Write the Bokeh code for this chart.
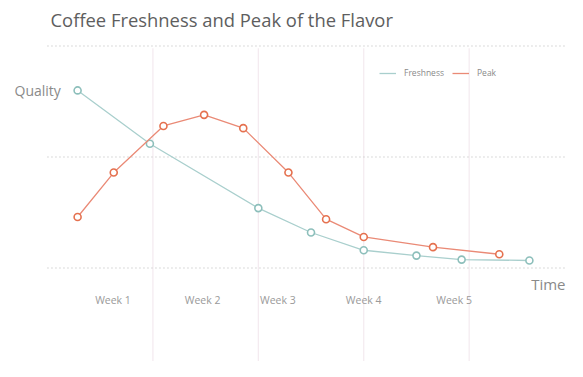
from bokeh.plotting import figure
from bokeh.models import Range1d, Label, Legend, LegendItem, ColumnDataSource
from bokeh.core.properties import value
from bokeh.embed import file_html
from bokeh.resources import INLINE

# ---- data (x in days, y in quality units) ----
fresh_x = [2, 6.8, 14, 17.5, 21, 24.5, 27.5, 32]
fresh_y = [80, 56, 27, 16, 8, 5.6, 3.8, 3.4]
peak_x = [2, 4.4, 7.7, 10.4, 13, 16, 18.5, 21, 25.6, 30]
peak_y = [23, 43, 64, 69, 63, 43, 22, 14, 9.4, 6.2]
week_labels = ["Week 1", "Week 2", "Week 3", "Week 4", "Week 5"]
week_label_x = [4.35, 10.3, 15.3, 21.0, 27.0]
week_bounds = [7, 14, 21, 28]
grid_levels = [0, 50, 100]

FONT = "Open Sans"
TEAL = "#8dbfbb"
TEAL_LINE = "#a9cfcd"
RED = "#e5714f"
RED_LINE = "#ea8a76"

p = figure(width=567, height=361, output_backend="svg", toolbar_location=None,
           x_range=Range1d(-3.12, 34.53), y_range=Range1d(-42.1, 120.5),
           min_border=0, min_border_left=0, min_border_right=0,
           min_border_top=0, min_border_bottom=0)
p.axis.visible = False
p.grid.visible = False
p.outline_line_color = None
p.background_fill_color = "white"
p.border_fill_color = "white"

# vertical week separators
p.segment(x0=week_bounds, x1=week_bounds, y0=[99] * 4, y1=[-60] * 4,
          line_color="#f4eaef", line_width=1.2)

# dotted horizontal levels
p.segment(x0=[0] * 3, x1=[40] * 3, y0=grid_levels, y1=grid_levels,
          line_color="#cfcfcf", line_width=1.6, line_dash="1 3")

# series
r_f = p.line(fresh_x, fresh_y, line_color=TEAL_LINE, line_width=1.3)
p.scatter(fresh_x, fresh_y, size=7, marker="circle", fill_color="white",
          line_color=TEAL, line_width=1.6)
r_p = p.line(peak_x, peak_y, line_color=RED_LINE, line_width=1.3)
p.scatter(peak_x, peak_y, size=7, marker="circle", fill_color="white",
          line_color=RED, line_width=1.6)

# week labels
src = ColumnDataSource(dict(x=week_label_x, y=[-14.6] * 5, t=week_labels))
p.text(x="x", y="y", text="t", source=src, text_font=value(FONT),
       text_font_size="10.5px", text_color="#9a9a9a", text_align="center",
       text_baseline="middle")

# axis words
p.add_layout(Label(x=14, y=271, x_units="screen", y_units="screen",
                   text="Quality", text_font=FONT,
                   text_font_size="14px", text_color="#8a8a8a",
                   text_baseline="middle", text_align="left"))
p.add_layout(Label(x=565, y=78, x_units="screen", y_units="screen",
                   text="Time", text_font=FONT,
                   text_font_size="15px", text_color="#8a8a8a",
                   text_baseline="middle", text_align="right"))

# title
p.add_layout(Label(x=50, y=342, x_units="screen", y_units="screen",
                   text="Coffee Freshness and Peak of the Flavor",
                   text_font=FONT, text_font_size="18.4px",
                   text_color="#5e5e5e", text_baseline="alphabetic"))

# legend
legend = Legend(items=[LegendItem(label="Freshness", renderers=[r_f]),
                       LegendItem(label="Peak", renderers=[r_p])],
                location=(379, 283), orientation="horizontal",
                label_text_font=FONT, label_text_font_size="8.5px",
                label_text_color="#8a8a8a", glyph_width=17, glyph_height=10,
                label_standoff=8, spacing=8, padding=0, margin=0,
                background_fill_alpha=0, border_line_color=None,
                label_height=10)
p.add_layout(legend, "center")

open("out.html", "w").write(file_html(p, INLINE))
